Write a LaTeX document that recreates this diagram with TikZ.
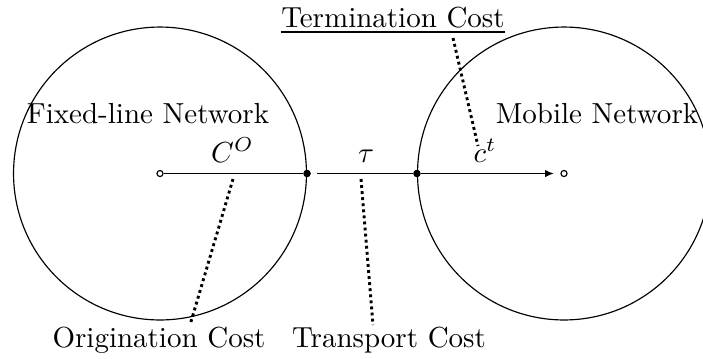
\documentclass[tikz,border=0pt]{standalone}
\usetikzlibrary{arrows.meta}
\begin{document}
\begin{tikzpicture}[x=0.3448pt,y=-0.3448pt,
  net/.style={draw,circle,minimum size=101pt,inner sep=0pt,line width=0.4pt},
  opendot/.style={draw,circle,fill=white,minimum size=2.1pt,inner sep=0pt,line width=0.4pt},
  fulldot/.style={fill,circle,minimum size=2.6pt,inner sep=0pt},
  lbl/.style={inner sep=0pt,anchor=base},
  leader/.style={line width=1pt,dash pattern=on 1pt off 1.1pt}]
\useasboundingbox (0,0) rectangle (703,358);

% the two networks
\node[net] (fixed) at (160,173.5) {};
\node[net] (mobile) at (564,173.5) {};

% call path: origin, interconnection points, destination
\node[opendot] (src) at (160,173.5) {};
\node[fulldot] (poi1) at (fixed.east) {};
\node[fulldot] (poi2) at (mobile.west) {};
\node[opendot] (dst) at (564,173.5) {};
\draw (src) -- (poi1);
\draw[shorten <=2pt] (poi1) -- (poi2);
\draw[-{Latex[length=3pt,width=2.6pt]},shorten >=2.3pt] (poi2) -- (dst);

% cost symbols on the path
\node[lbl] (co) at (232.5,162) {$C^O$};
\node[lbl] (tau) at (366,162) {$\tau$};
\node[lbl] (ct) at (485,162) {$c^t$};

% network names
\node[lbl] (fixlbl) at (148,123) {Fixed-line Network};
\node[lbl] (moblbl) at (597,123) {Mobile Network};

% cost names
\node[lbl] (orig) at (159,347) {Origination Cost};
\node[lbl] (trans) at (389,347) {Transport Cost};
\node[lbl] (term) at (393,27) {Termination Cost};
\draw ([yshift=-1.7pt]term.base west) -- ([yshift=-1.7pt]term.base east);

% dotted leaders from names to symbols
\coordinate (co-top) at (233,179);
\coordinate (co-bot) at (190,325);
\coordinate (tau-top) at (361,179);
\coordinate (tau-bot) at (373,325);
\coordinate (ct-top) at (453,38);
\coordinate (ct-bot) at (478,146);
\draw[leader] (co-top) -- (co-bot);
\draw[leader] (tau-top) -- (tau-bot);
\draw[leader] (ct-top) -- (ct-bot);
\end{tikzpicture}
\end{document}
